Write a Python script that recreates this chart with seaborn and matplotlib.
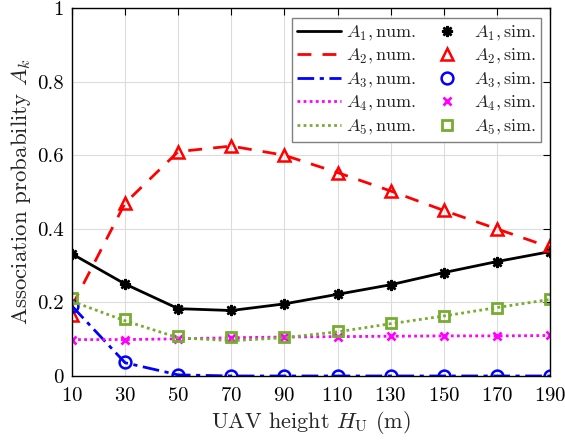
import numpy as np
import pandas as pd
import seaborn as sns
import matplotlib.pyplot as plt

# UAV height (m)
heights = [10, 30, 50, 70, 90, 110, 130, 150, 170, 190]

# numerical results
a1_num = [0.332, 0.250, 0.183, 0.178, 0.196, 0.222, 0.248, 0.281, 0.311, 0.338]
a2_num = [0.190, 0.470, 0.610, 0.625, 0.600, 0.553, 0.503, 0.450, 0.400, 0.350]
a3_num = [0.190, 0.036, 0.003, 0.000, 0.000, 0.000, 0.000, 0.000, 0.000, 0.000]
a4_num = [0.099, 0.099, 0.101, 0.104, 0.106, 0.107, 0.108, 0.109, 0.109, 0.110]
a5_num = [0.203, 0.150, 0.104, 0.096, 0.104, 0.120, 0.142, 0.163, 0.186, 0.208]

# simulation results
a1_sim = [0.332, 0.250, 0.183, 0.180, 0.196, 0.222, 0.247, 0.281, 0.311, 0.336]
a2_sim = [0.165, 0.470, 0.610, 0.625, 0.600, 0.553, 0.503, 0.450, 0.400, 0.355]
a3_sim = [0.190, 0.037, 0.003, 0.000, 0.000, 0.000, 0.000, 0.000, 0.000, 0.000]
a4_sim = [0.098, 0.097, 0.100, 0.104, 0.106, 0.107, 0.108, 0.108, 0.108, 0.111]
a5_sim = [0.213, 0.155, 0.110, 0.105, 0.107, 0.123, 0.144, 0.163, 0.186, 0.208]

sns.set_theme(style="whitegrid")
plt.rcParams["font.family"] = "serif"
plt.rcParams["font.serif"] = ["cmr10", "DejaVu Serif"]
plt.rcParams["mathtext.fontset"] = "cm"
plt.rcParams["axes.formatter.use_mathtext"] = True

green = "#77AC30"
# name, num, sim, colour, linestyle, marker, filled, markersize, edge width
series = [
    ("1", a1_num, a1_sim, "black", "-", (8, 2, 0), True, 8, 1.8),
    ("2", a2_num, a2_sim, "red", (0, (5, 4)), "^", False, 9, 1.8),
    ("3", a3_num, a3_sim, "blue", (0, (6, 2, 1.5, 2)), "o", False, 8.5, 1.8),
    ("4", a4_num, a4_sim, "magenta", (0, (1, 1.2)), "x", True, 6, 2.0),
    ("5", a5_num, a5_sim, green, (0, (1, 1.2)), "s", False, 7, 2.0),
]

fig = plt.figure(figsize=(5.65, 4.4), dpi=100)
ax = fig.add_axes([0.1274, 0.1455, 0.846, 0.836])

line_handles = []
mark_handles = []
for k, num, sim, col, ls, mk, filled, ms, mew in series:
    df = pd.DataFrame({"h": heights, "num": num, "sim": sim})
    sns.lineplot(data=df, x="h", y="num", ax=ax, color=col, linestyle=ls,
                 linewidth=2, label=r"$A_%s, \mathrm{num.}$" % k)
    line_handles.append(ax.lines[-1])
    h, = ax.plot(df["h"], df["sim"], linestyle="none", marker=mk,
                 markersize=ms, markeredgecolor=col, markeredgewidth=mew,
                 markerfacecolor=col if filled else "none",
                 label=r"$A_%s, \mathrm{sim.}$" % k)
    mark_handles.append(h)

ax.set_xlim(10, 190)
ax.set_ylim(0, 1)
ax.set_xticks(heights)
ax.set_yticks([0, 0.2, 0.4, 0.6, 0.8, 1])
ax.set_yticklabels(["0", "0.2", "0.4", "0.6", "0.8", "1"])
ax.tick_params(direction="in", top=True, right=True, length=5, width=0.8,
               labelsize=15, colors="black", pad=6)
ax.tick_params(axis="x", pad=8)
ax.grid(True, color="#dcdcdc", linewidth=0.8)
for s in ax.spines.values():
    s.set_color("black")
    s.set_linewidth(1.0)

ax.set_xlabel(r"UAV height $H_{\rm U}$ (m)", fontsize=16, labelpad=3)
ax.set_ylabel(r"Association probability $A_k$", fontsize=16.5, labelpad=3)

handles = line_handles + mark_handles
labels = [h.get_label() for h in handles]
leg = ax.legend(handles, labels, ncol=2, loc="upper right", fontsize=13,
                frameon=True, fancybox=False, edgecolor="gray",
                framealpha=1, handlelength=2.4, columnspacing=0.5,
                labelspacing=0.25, borderpad=0.3, handletextpad=0.3,
                borderaxespad=0, bbox_to_anchor=(0.981, 0.973))
leg.get_frame().set_linewidth(1.0)

fig.savefig("out.png", dpi=100)
